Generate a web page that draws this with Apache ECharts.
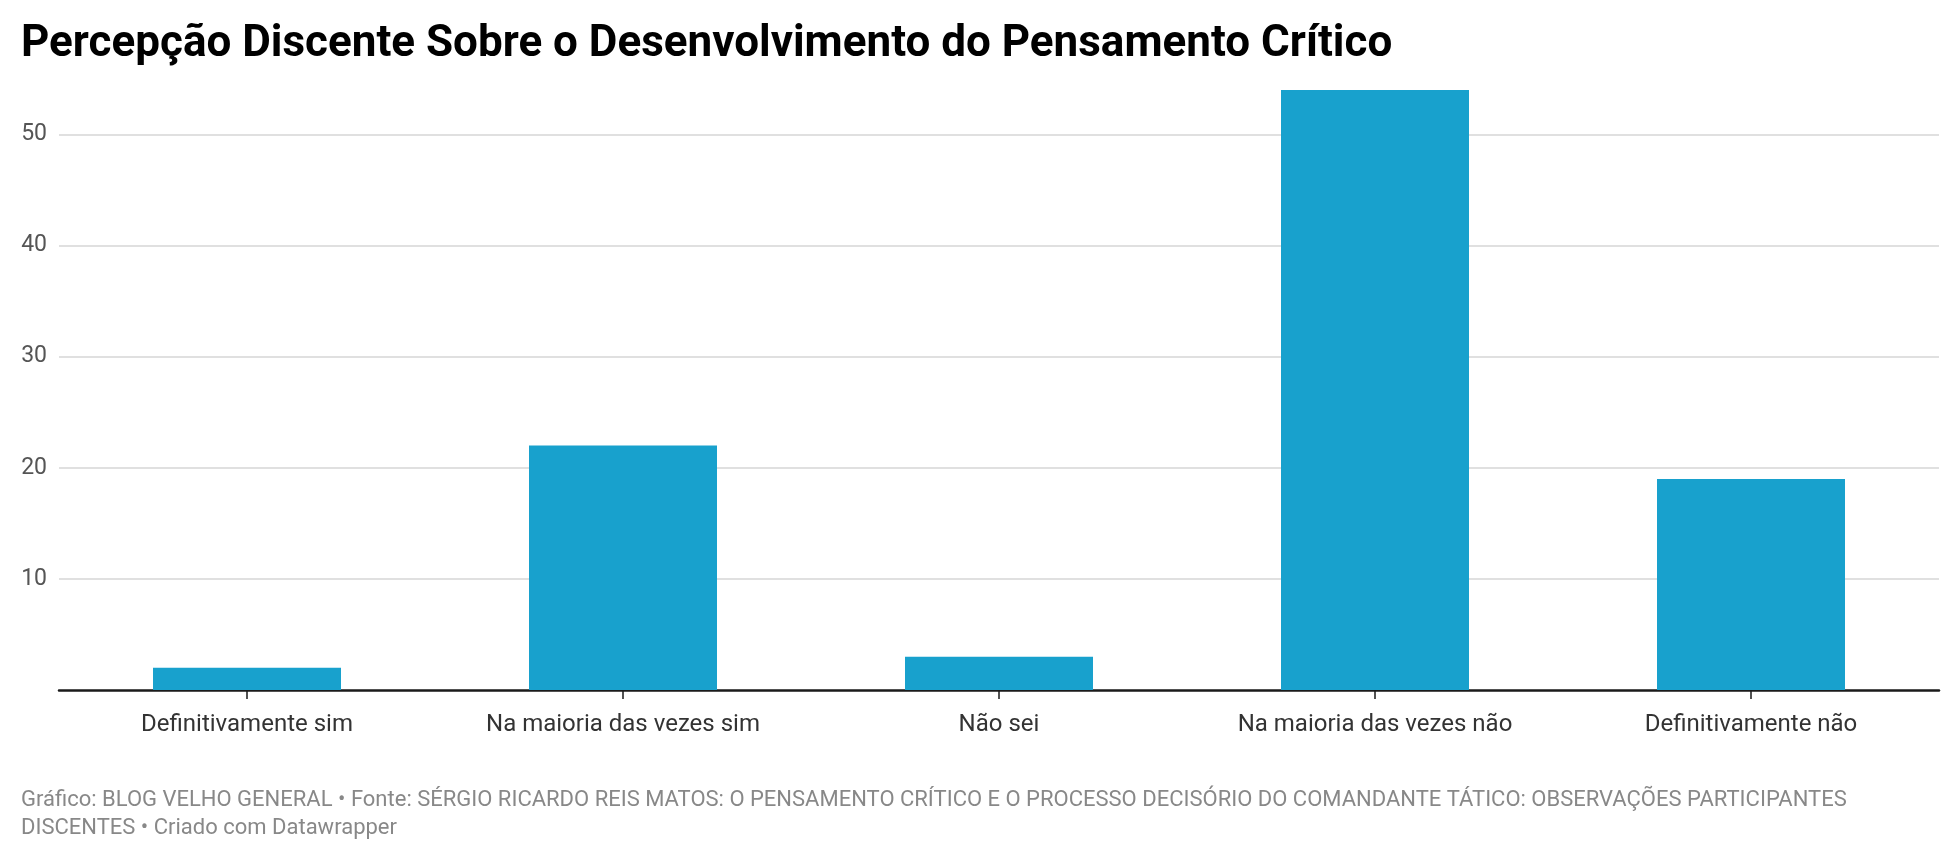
<!DOCTYPE html>
<html><head><meta charset="utf-8">
<script src="https://cdn.jsdelivr.net/npm/echarts@6/dist/echarts.min.js"></script>
<style>html,body{margin:0;padding:0;background:#fff}#c{width:1960px;height:856px}</style>
</head><body><div id="c"></div>
<script>
const categories = ["Definitivamente sim","Na maioria das vezes sim","Não sei","Na maioria das vezes não","Definitivamente não"];
const values = [2, 22, 3, 54, 19];
const yTicks = [10, 20, 30, 40, 50];
const titleText = "Percepção Discente Sobre o Desenvolvimento do Pensamento Crítico";
const footerText = "Gráfico: BLOG VELHO GENERAL • Fonte: SÉRGIO RICARDO REIS MATOS: O PENSAMENTO CRÍTICO E O PROCESSO DECISÓRIO DO COMANDANTE TÁTICO: OBSERVAÇÕES PARTICIPANTES\nDISCENTES • Criado com Datawrapper";

const chart = echarts.init(document.getElementById('c'));
chart.setOption({
  backgroundColor: '#fff',
  animation: false,
  textStyle: { fontFamily: 'Roboto' },
  title: [
    { text: titleText, left: 16, top: 18,
      textStyle: { fontFamily: 'Roboto', fontWeight: 'bold', fontSize: 44, color: '#000' } },
    { text: footerText, left: 16, top: 781,
      textStyle: { fontFamily: 'Roboto', fontWeight: 'normal', fontSize: 22, color: '#888', lineHeight: 28 } }
  ],
  grid: { left: 59, right: 21, top: 90, bottom: 166, containLabel: false },
  xAxis: {
    type: 'category', data: categories,
    axisLine: { lineStyle: { color: '#1a1a1a', width: 2.5 } },
    axisTick: { show: true, alignWithLabel: true, length: 9, lineStyle: { color: '#1a1a1a', width: 1.5 } },
    axisLabel: { color: '#333', fontSize: 24, margin: 23 }
  },
  yAxis: {
    type: 'value', min: 0, max: 54, interval: 10,
    axisLine: { show: false }, axisTick: { show: false },
    axisLabel: { color: '#555', fontSize: 23, margin: 12, showMaxLabel: false,
      formatter: v => yTicks.includes(v) ? String(v) : '' },
    splitLine: { show: true, showMinLine: false, showMaxLine: false, lineStyle: { color: '#d6d6d6', width: 1.5 } }
  },
  series: [{
    type: 'bar', data: values, barCategoryGap: '50%',
    itemStyle: { color: '#18a1cd' }
  }]
});
</script></body></html>
